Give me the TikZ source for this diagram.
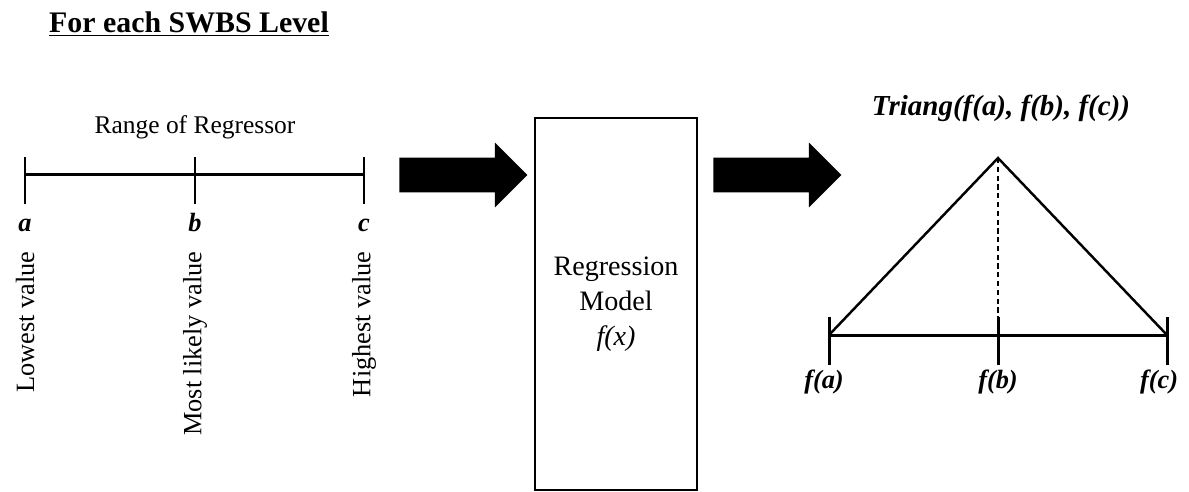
\documentclass[tikz,border=0pt]{standalone}
\usepackage{fontspec}
\setmainfont{Liberation Serif}
\usetikzlibrary{shapes,arrows,positioning}

\newcommand{\bigtext}{\fontsize{16}{20}\selectfont}
\newcommand{\midtext}{\fontsize{15}{18}\selectfont}

\begin{document}
\begin{tikzpicture}[x=0.02cm,y=-0.02cm,
  thickline/.style={line width=1.7pt},
  fatarrow/.style={single arrow,fill=black,draw=none,inner xsep=0pt,inner ysep=0.34cm,
    minimum height=2.56cm,single arrow head extend=0.3cm,anchor=tail},
  ticklabel/.style={font=\midtext\bfseries\itshape,inner sep=0pt,anchor=base},
  rotlabel/.style={font=\midtext,rotate=90,anchor=east,inner sep=0pt}]
\useasboundingbox (0,0) rectangle (1189,491);

% heading
\node[font=\fontsize{17}{20}\selectfont\bfseries] (title) at (189,24) {\underline{For each SWBS Level}};

% range of the regressor
\node[font=\fontsize{14.5}{17}\selectfont] (range) at (195,127) {Range of Regressor};
\coordinate (a) at (25,174);
\coordinate (c) at (364,174);
\draw[thickline] (a) -- (c);
\foreach \x/\v/\w in {25/a/Lowest value,195/b/Most likely value,364/c/Highest value}
{
  \draw[thickline] (\x,157) -- (\x,204);
  \node[ticklabel] (lbl\v) at (\x,231) {\v};
  \node[rotlabel] (val\v) at (\x,251) {\w};
}

% model
\node[fatarrow] (arrowin) at (399,175) {};
\node[draw,line width=1.2pt,minimum width=3.24cm,minimum height=7.44cm,
  align=center,font=\bigtext] (model) at (616,304) {Regression\\Model\\\textit{f(x)}};
\node[fatarrow] (arrowout) at (713,175) {};

% triangular distribution
\node[font=\fontsize{16.5}{20}\selectfont\bfseries\itshape] (triang) at (1001,108) {Triang(f(a), f(b), f(c))};
\coordinate (fa) at (829,335);
\coordinate (fb) at (998,335);
\coordinate (fc) at (1167,335);
\coordinate (peak) at (998,158);
\draw[thickline] (fa) -- (fc);
\draw[line width=1.4pt] (fa) -- (peak) -- (fc);
\draw[line width=1pt,densely dashed] (peak) -- (fb);
\foreach \x/\v in {829/a,998/b,1167/c}
  \draw[thickline] (\x,317) -- (\x,365);
\foreach \x/\v in {824/a,998/b,1159/c}
  \node[ticklabel] (lblf\v) at (\x,388) {f(\v)};

\end{tikzpicture}
\end{document}
